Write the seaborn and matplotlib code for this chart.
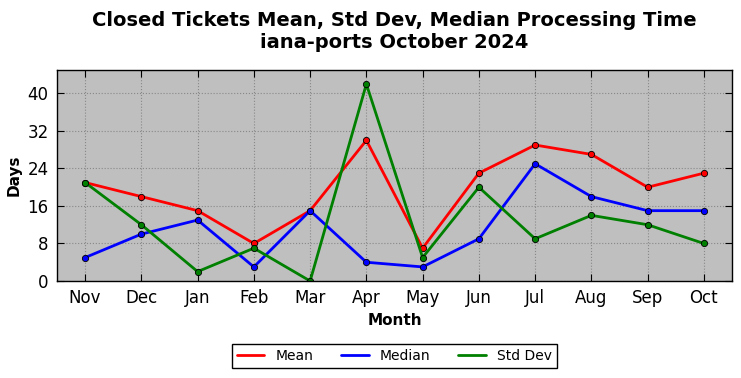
import matplotlib
matplotlib.use("Agg")
import matplotlib.pyplot as plt
import seaborn as sns
import pandas as pd

months = ["Nov", "Dec", "Jan", "Feb", "Mar", "Apr", "May", "Jun", "Jul", "Aug", "Sep", "Oct"]
mean_vals = [21, 18, 15, 8, 15, 30, 7, 23, 29, 27, 20, 23]
median_vals = [5, 10, 13, 3, 15, 4, 3, 9, 25, 18, 15, 15]
std_vals = [21, 12, 2, 7, 0, 42, 5, 20, 9, 14, 12, 8]

sns.set_theme(style="ticks")
plt.rcParams["font.family"] = ["DejaVu Sans"]
for k in ["text.color", "axes.labelcolor", "xtick.color", "ytick.color"]:
    plt.rcParams[k] = "black"

fig = plt.figure(figsize=(7.41, 3.78), dpi=100)
ax = fig.add_axes([57/741, 1 - 281/378, (732-57)/741, (281-70)/378])
ax.set_facecolor("#bfbfbf")

x = list(range(len(months)))
for vals, color, label in [(mean_vals, "red", "Mean"), (median_vals, "blue", "Median"), (std_vals, "green", "Std Dev")]:
    df = pd.DataFrame({"x": x, "y": vals})
    sns.lineplot(data=df, x="x", y="y", ax=ax, color=color, linewidth=2, label=label,
                 marker="o", markersize=4.5, markeredgecolor="black", markeredgewidth=0.6)

ax.set_xlim(-0.5, 11.5)
ax.set_ylim(0, 45)
ax.set_xticks(x)
ax.set_xticklabels(months)
ax.set_yticks([0, 8, 16, 24, 32, 40])
ax.tick_params(axis="both", direction="in", top=True, right=True, labelsize=12, length=5, width=0.8, color="black", pad=6)
ax.grid(True, linestyle=":", color="#888888", linewidth=0.8)
for s in ax.spines.values():
    s.set_color("black")
    s.set_linewidth(1)
ax.set_xlabel("Month", fontsize=11, fontweight="bold")
ax.set_ylabel("Days", fontsize=11, fontweight="bold")

fig.suptitle("Closed Tickets Mean, Std Dev, Median Processing Time\niana-ports October 2024",
             fontsize=14, fontweight="bold", x=394.5/741, y=0.972)

leg = ax.legend(loc="upper center", bbox_to_anchor=(0.5, -0.265), ncol=3, fontsize=10,
                frameon=True, fancybox=False, edgecolor="black", framealpha=1,
                columnspacing=2.0, handlelength=2.0, borderpad=0.35)
leg.get_frame().set_linewidth(1)
for h in leg.legend_handles:
    h.set_marker("")

fig.savefig("out.png", dpi=100)
